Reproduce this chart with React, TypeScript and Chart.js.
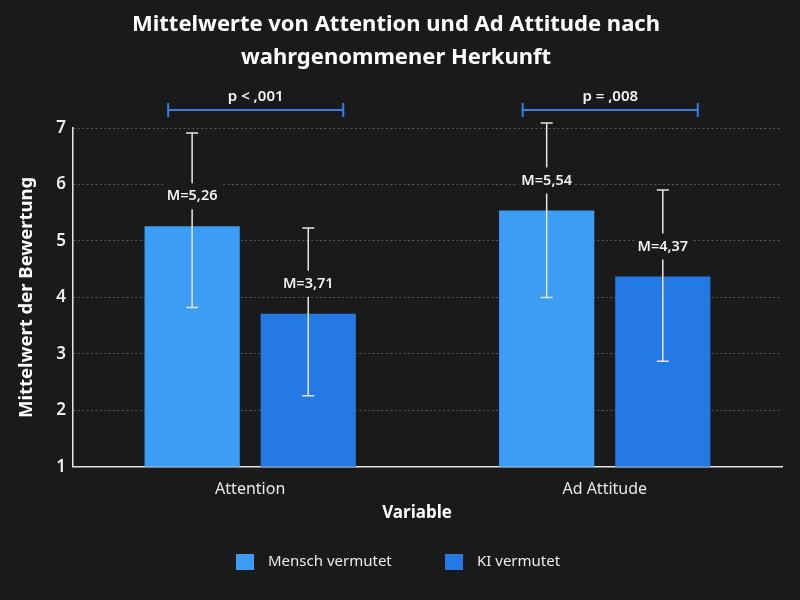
import React, { useEffect, useRef } from "react";
import { Chart, registerables } from "chart.js";

Chart.register(...registerables);

const categories = ["Attention", "Ad Attitude"];
const seriesNames = ["Mensch vermutet", "KI vermutet"];
const menschMeans = [5.26, 5.54];
const kiMeans = [3.71, 4.37];
const menschLow = [3.82, 4.0];
const menschHigh = [6.91, 7.09];
const kiLow = [2.26, 2.87];
const kiHigh = [5.23, 5.9];
const meanLabels = [
  ["M=5,26", "M=5,54"],
  ["M=3,71", "M=4,37"],
];
const pLabels = ["p < ,001", "p = ,008"];
const yTicks = [1, 2, 3, 4, 5, 6, 7];
const xTitle = "Variable";

const BG = "#1a1a1a";
const FONT = "'Noto Sans', 'Open Sans', sans-serif";
const COLORS = ["#3b9ef4", "#2479e4"];

const overlayPlugin = {
  id: "overlay",
  afterDatasetsDraw(chart: any) {
    const ctx = chart.ctx;
    const y = chart.scales.y;
    const lows = [menschLow, kiLow];
    const highs = [menschHigh, kiHigh];
    const means = [menschMeans, kiMeans];
    ctx.save();
    // error bars + labels
    for (let d = 0; d < 2; d++) {
      const meta = chart.getDatasetMeta(d);
      meta.data.forEach((bar: any, i: number) => {
        const x = bar.x;
        const yl = y.getPixelForValue(lows[d][i]);
        const yh = y.getPixelForValue(highs[d][i]);
        ctx.strokeStyle = "#e6e6e6";
        ctx.lineWidth = 1.5;
        ctx.beginPath();
        ctx.moveTo(x, yl);
        ctx.lineTo(x, yh);
        ctx.moveTo(x - 6, yl);
        ctx.lineTo(x + 6, yl);
        ctx.moveTo(x - 6, yh);
        ctx.lineTo(x + 6, yh);
        ctx.stroke();
        const ly = y.getPixelForValue(means[d][i]) - 30;
        ctx.font = `600 14.5px ${FONT}`;
        const w = ctx.measureText(meanLabels[d][i]).width;
        ctx.fillStyle = BG;
        ctx.fillRect(x - w / 2 - 3, ly - 13, w + 6, 26);
        ctx.fillStyle = "#f2f2f2";
        ctx.textAlign = "center";
        ctx.textBaseline = "middle";
        ctx.fillText(meanLabels[d][i], x, ly);
      });
    }
    // significance brackets
    const m0 = chart.getDatasetMeta(0);
    const m1 = chart.getDatasetMeta(1);
    for (let i = 0; i < categories.length; i++) {
      const x1 = m0.data[i].x - 24;
      const x2 = m1.data[i].x + 35;
      const by = chart.chartArea.top - 18;
      ctx.strokeStyle = "#2f80e8";
      ctx.lineWidth = 2;
      ctx.beginPath();
      ctx.moveTo(x1, by);
      ctx.lineTo(x2, by);
      ctx.moveTo(x1, by - 7);
      ctx.lineTo(x1, by + 7);
      ctx.moveTo(x2, by - 7);
      ctx.lineTo(x2, by + 7);
      ctx.stroke();
      ctx.fillStyle = "#f2f2f2";
      ctx.font = `600 15px ${FONT}`;
      ctx.textAlign = "center";
      ctx.textBaseline = "middle";
      ctx.fillText(pLabels[i], (x1 + x2) / 2, by - 13);
    }
    // x axis title
    ctx.fillStyle = "#ffffff";
    ctx.font = `bold 17px ${FONT}`;
    ctx.textAlign = "center";
    ctx.textBaseline = "middle";
    ctx.fillText(xTitle, 417, 513);
    // legend
    const items = [
      { x: 236, label: seriesNames[0], color: COLORS[0] },
      { x: 445, label: seriesNames[1], color: COLORS[1] },
    ];
    ctx.font = `400 15px ${FONT}`;
    ctx.textAlign = "left";
    ctx.textBaseline = "middle";
    items.forEach((it) => {
      ctx.fillStyle = it.color;
      ctx.fillRect(it.x, 554, 18, 16);
      ctx.fillStyle = "#ececec";
      ctx.fillText(it.label, it.x + 32, 562);
    });
    ctx.restore();
  },
};

export default function App() {
  const ref = useRef<HTMLCanvasElement>(null);
  useEffect(() => {
    document.body.style.margin = "0";
    document.body.style.background = BG;
    const chart = new Chart(ref.current!, {
      type: "bar",
      data: {
        labels: categories,
        datasets: [
          { label: seriesNames[0], data: menschMeans, backgroundColor: COLORS[0] },
          { label: seriesNames[1], data: kiMeans, backgroundColor: COLORS[1] },
        ],
      },
      options: {
        animation: false,
        responsive: false,
        devicePixelRatio: 1,
        categoryPercentage: 0.655,
        barPercentage: 0.82,
        layout: { padding: { left: 10, right: 18, top: 0, bottom: 88 } },
        plugins: {
          legend: { display: false },
          tooltip: { enabled: false },
          title: {
            display: true,
            text: ["Mittelwerte von Attention und Ad Attitude nach", "wahrgenommener Herkunft"],
            color: "#ffffff",
            font: { family: FONT, size: 22, weight: "bold", lineHeight: 1.5 },
            padding: { top: 8, bottom: 54 },
          },
        },
        scales: {
          x: {
            grid: { display: false, drawTicks: false },
            border: { display: true, color: "#e6e6e6", width: 1.5 },
            ticks: { color: "#e8e8e8", font: { family: FONT, size: 16 }, padding: 13 },
            title: { display: false },
          },
          y: {
            min: 1,
            max: 7,
            afterBuildTicks: (s: any) => {
              s.ticks = yTicks.map((v) => ({ value: v }));
            },
            grid: { color: "#585858", lineWidth: 1, drawTicks: false },
            border: { display: true, color: "#e6e6e6", width: 1.5, dash: [2, 2.4] },
            ticks: { color: "#f0f0f0", font: { family: FONT, size: 17, weight: "600" }, padding: 7 },
            title: {
              display: true,
              text: "Mittelwert der Bewertung",
              color: "#ffffff",
              font: { family: FONT, size: 18.5, weight: "bold" },
              padding: { top: 6, bottom: 11 },
            },
          },
        },
      },
      plugins: [
        overlayPlugin,
        {
          id: "bg",
          beforeDraw(c: any) {
            const ctx = c.ctx;
            ctx.save();
            ctx.fillStyle = BG;
            ctx.fillRect(0, 0, c.width, c.height);
            ctx.restore();
          },
        },
      ],
    } as any);
    return () => chart.destroy();
  }, []);
  return <canvas ref={ref} width={800} height={600} style={{ display: "block" }} />;
}
